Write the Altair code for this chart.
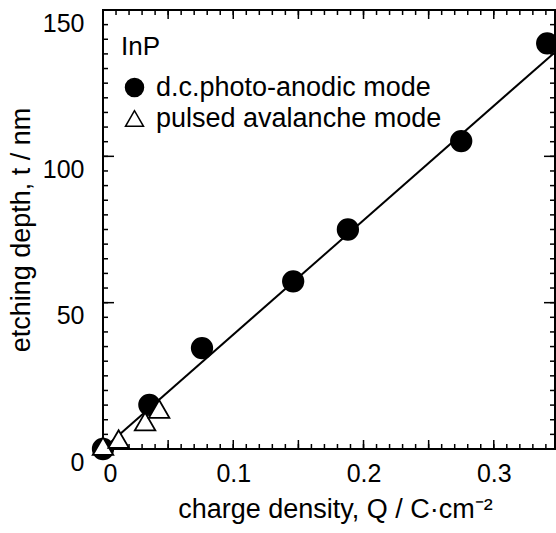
import altair as alt
import pandas as pd

# data
circle_q = [0.0, 0.0356, 0.076, 0.146, 0.188, 0.275, 0.341]
circle_t = [0.0, 15.1, 34.5, 57.3, 75.0, 105.2, 138.6]
tri_q = [0.0, 0.012, 0.0323, 0.0431]
tri_t = [1.0, 3.4, 9.4, 13.7]
fit_q = [0.0, 0.347]
fit_t = [0.0, 135.6]

modes = ["d.c.photo-anodic mode", "pulsed avalanche mode"]
x_labels = [0, 0.1, 0.2, 0.3]
y_labels = [0, 50, 100, 150]
x_minor = [round(i * 0.01, 2) for i in range(0, 35)]
x_major = [round(i * 0.05, 2) for i in range(0, 7)]
y_minor = [i * 5 for i in range(0, 31)]
y_major = [0, 50, 100, 150]

XMAX = 0.347
W, H = 452, 439
FONT = "Liberation Sans"

pts = pd.DataFrame({
    "Q": circle_q + tri_q,
    "t": circle_t + tri_t,
    "mode": [modes[0]] * len(circle_q) + [modes[1]] * len(tri_q),
})
fit = pd.DataFrame({"Q": fit_q, "t": fit_t})

xs = alt.Scale(domain=[0, XMAX], nice=False, zero=False)
ys = alt.Scale(domain=[0, 150], nice=False, zero=False)

# one shared axis definition, reused by every layer so the merged axis keeps it
x_axis = alt.Axis(
    orient="bottom", ticks=False, domain=False, grid=False, values=x_labels,
    labelFontSize=25, labelPadding=12, labelColor="black", labelFont=FONT,
    labelExpr="datum.value == 0 ? '0' : format(datum.value, '.1f')",
    title="charge density, Q / C·cm⁻²", titleFontSize=27, titleFontWeight="normal",
    titleFont=FONT, titleColor="black", titleX=232, titleY=68,
    titleAlign="center", titleBaseline="alphabetic")
y_axis = alt.Axis(
    orient="left", ticks=False, domain=False, grid=False, values=y_labels,
    labelFontSize=25, labelPadding=19, labelOffset=13, labelColor="black", labelFont=FONT,
    title="etching depth, t / nm", titleFontSize=27, titleFontWeight="normal",
    titleFont=FONT, titleColor="black", titleX=-74, titleY=219.5, titleAngle=-90,
    titleAlign="center", titleBaseline="alphabetic")


def xticks(values, length):
    # inward frame ticks on the bottom and top edges, placed through the x scale
    d = pd.DataFrame({"Q": values})
    base = alt.Chart(d).mark_rule(color="black", strokeWidth=1.5)
    bottom = base.encode(x=alt.X("Q:Q", scale=xs, axis=x_axis),
                         y=alt.value(H), y2=alt.value(H - length))
    top = base.encode(x=alt.X("Q:Q", scale=xs, axis=x_axis),
                      y=alt.value(0), y2=alt.value(length))
    return [bottom, top]


def yticks(values, length):
    # inward frame ticks on the left and right edges, placed through the y scale
    d = pd.DataFrame({"t": values})
    base = alt.Chart(d).mark_rule(color="black", strokeWidth=1.5)
    left = base.encode(y=alt.Y("t:Q", scale=ys, axis=y_axis),
                       x=alt.value(0), x2=alt.value(length))
    right = base.encode(y=alt.Y("t:Q", scale=ys, axis=y_axis),
                        x=alt.value(W), x2=alt.value(W - length))
    return [left, right]


tick_layers = (xticks(x_minor, 5) + xticks(x_major, 9)
               + yticks(y_minor, 5) + yticks(y_major, 11))

line = alt.Chart(fit).mark_line(color="black", strokeWidth=2).encode(
    x=alt.X("Q:Q", scale=xs, axis=x_axis),
    y=alt.Y("t:Q", scale=ys, axis=y_axis),
)

leg = alt.Legend(title="InP", orient="none", legendX=18, legendY=24, padding=0,
                 titleFontSize=26, titleFontWeight="normal", titleColor="black", titleFont=FONT,
                 titlePadding=14, labelFontSize=27, labelColor="black", labelFont=FONT,
                 labelOffset=8, symbolSize=324, symbolStrokeWidth=1.5, rowPadding=3,
                 labelLimit=400)

points = alt.Chart(pts).mark_point(filled=True, strokeWidth=1.8, opacity=1, size=420).encode(
    x=alt.X("Q:Q", scale=xs, axis=x_axis),
    y=alt.Y("t:Q", scale=ys, axis=y_axis),
    shape=alt.Shape("mode:N", scale=alt.Scale(domain=modes, range=["circle", "triangle-up"]),
                    legend=leg),
    fill=alt.Fill("mode:N", scale=alt.Scale(domain=modes, range=["black", "white"]),
                  legend=leg),
    stroke=alt.Stroke("mode:N", scale=alt.Scale(domain=modes, range=["black", "black"]),
                      legend=leg),
)

chart = alt.layer(line, *tick_layers, points).properties(
    width=W, height=H,
    autosize=alt.AutoSizeParams(type="none"),
    padding={"left": 103, "top": 10, "right": 1, "bottom": 84},
).configure(
    font=FONT,
).configure_view(
    stroke="black", strokeWidth=2,
)

chart.save("out.html", embed_options={"renderer": "svg", "actions": False})
